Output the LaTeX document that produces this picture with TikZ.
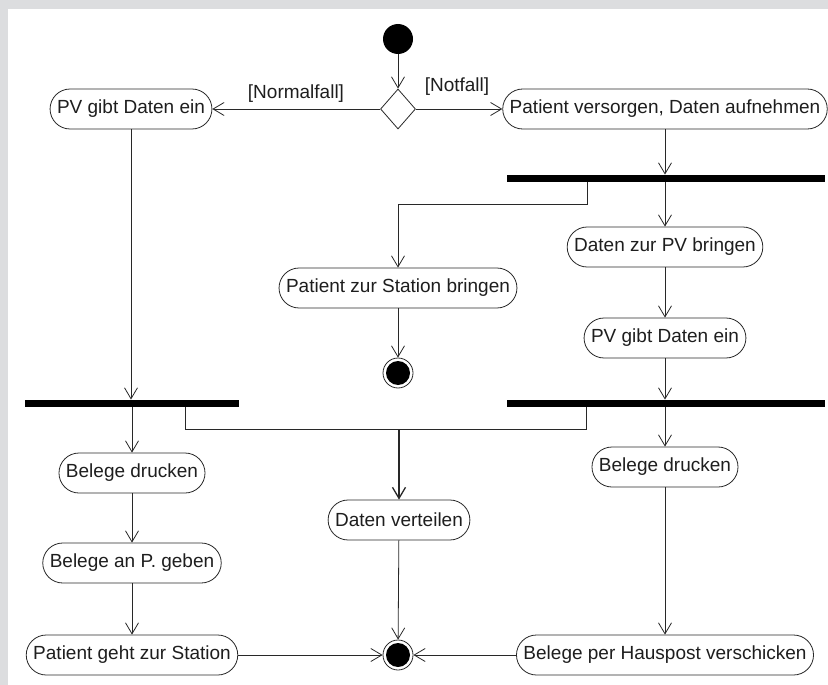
\documentclass[tikz,border=0pt]{standalone}
\usepackage{fontspec}
\setmainfont{Liberation Sans}
\usetikzlibrary{arrows.meta,shapes.geometric}
\definecolor{bgc}{RGB}{220,221,223}
\definecolor{linec}{RGB}{40,40,40}
\definecolor{textc}{RGB}{30,30,30}
\tikzset{
  act/.style={rectangle, rounded corners=20pt, draw=linec, line width=0.8pt,
    minimum height=40pt, inner xsep=7pt, font=\fontsize{19}{22}\selectfont, text=textc},
  bar/.style={rectangle, fill=black, minimum height=7.5pt, inner sep=0pt},
  flow/.style={draw=linec, line width=0.8pt, -{Straight Barb[length=11pt,width=13pt]}},
  plain/.style={draw=linec, line width=0.8pt},
  guard/.style={font=\fontsize{19}{22}\selectfont, text=textc, inner sep=0pt},
  startnode/.style={circle, fill=black, minimum size=30pt, inner sep=0pt},
  endnode/.style={circle, draw=linec, line width=0.8pt, fill=white, minimum size=30pt, inner sep=0pt,
    path picture={\fill[black] (path picture bounding box.center) circle (12pt);}},
  decision/.style={diamond, draw=linec, line width=0.8pt, fill=white, minimum width=35pt, minimum height=40pt, inner sep=0pt}
}
\begin{document}
\begin{tikzpicture}[x=1pt,y=-1pt]
\fill[bgc] (0,0) rectangle (828,685);
\fill[white] (8,9) rectangle (828,685);
\useasboundingbox (0,0) rectangle (828,685);

% nodes
\node[startnode] (start) at (398,39) {};
\node[decision] (dec) at (398,109) {};
\node[act] (pv1) at (131,109) {PV gibt Daten ein};
\node[act] (pat) at (665,109) {Patient versorgen, Daten aufnehmen};
\node[bar, minimum width=318pt] (bar1) at (666,178.5) {};
\node[act] (station) at (398,288) {Patient zur Station bringen};
\node[endnode] (end1) at (398,373) {};
\node[act] (daten) at (665,247) {Daten zur PV bringen};
\node[act] (pv2) at (665,338) {PV gibt Daten ein};
\node[bar, minimum width=214pt] (bar2) at (132,403.5) {};
\node[bar, minimum width=318pt] (bar3) at (666,403.5) {};
\node[act] (bel1) at (132,473) {Belege drucken};
\node[act] (bel2) at (665,467) {Belege drucken};
\node[act] (vert) at (399,520) {Daten verteilen};
\node[act] (belp) at (132,563) {Belege an P. geben};
\node[act] (geht) at (132,655) {Patient geht zur Station};
\node[act] (haus) at (665,655) {Belege per Hauspost verschicken};
\node[endnode] (end2) at (398,655) {};

\node[guard] (gnorm) at (296,94) {[Normalfall]};
\node[guard] (gnot) at (457,87) {[Notfall]};

\coordinate (f1) at (587,204);
\coordinate (jl) at (185,429);
\coordinate (jr) at (586,429);
\coordinate (jm) at (399,429);

% connectors
\draw[flow] (start) -- (dec.north);
\draw[flow] (dec.west) -- (pv1.east);
\draw[flow] (dec.east) -- (pat.west);
\draw[flow] (pat.south) -- (pat.south |- bar1.north);
\draw[flow] (daten.north |- bar1.south) -- (daten.north);
\draw[flow] (f1 |- bar1.south) -- (f1) -| (station.north);
\draw[flow] (station) -- (end1);
\draw[flow] (daten) -- (pv2);
\draw[flow] (pv2.south) -- (pv2.south |- bar3.north);
\draw[flow] (pv1.south) -- (pv1.south |- bar2.north);
\draw[flow] (bel1.north |- bar2.south) -- (bel1.north);
\draw[flow] (bel2.north |- bar3.south) -- (bel2.north);
\draw[plain] (jl |- bar2.south) -- (jl) -- (jr) -- (jr |- bar3.south);
\draw[flow, line width=1.3pt] (jm) -- (vert.north);
\draw[flow] (bel1) -- (belp);
\draw[flow] (belp) -- (geht);
\draw[flow] (bel2) -- (haus);
\draw[flow] (vert) -- (end2);
\draw[flow] (geht) -- (end2);
\draw[flow] (haus) -- (end2);
\end{tikzpicture}
\end{document}
